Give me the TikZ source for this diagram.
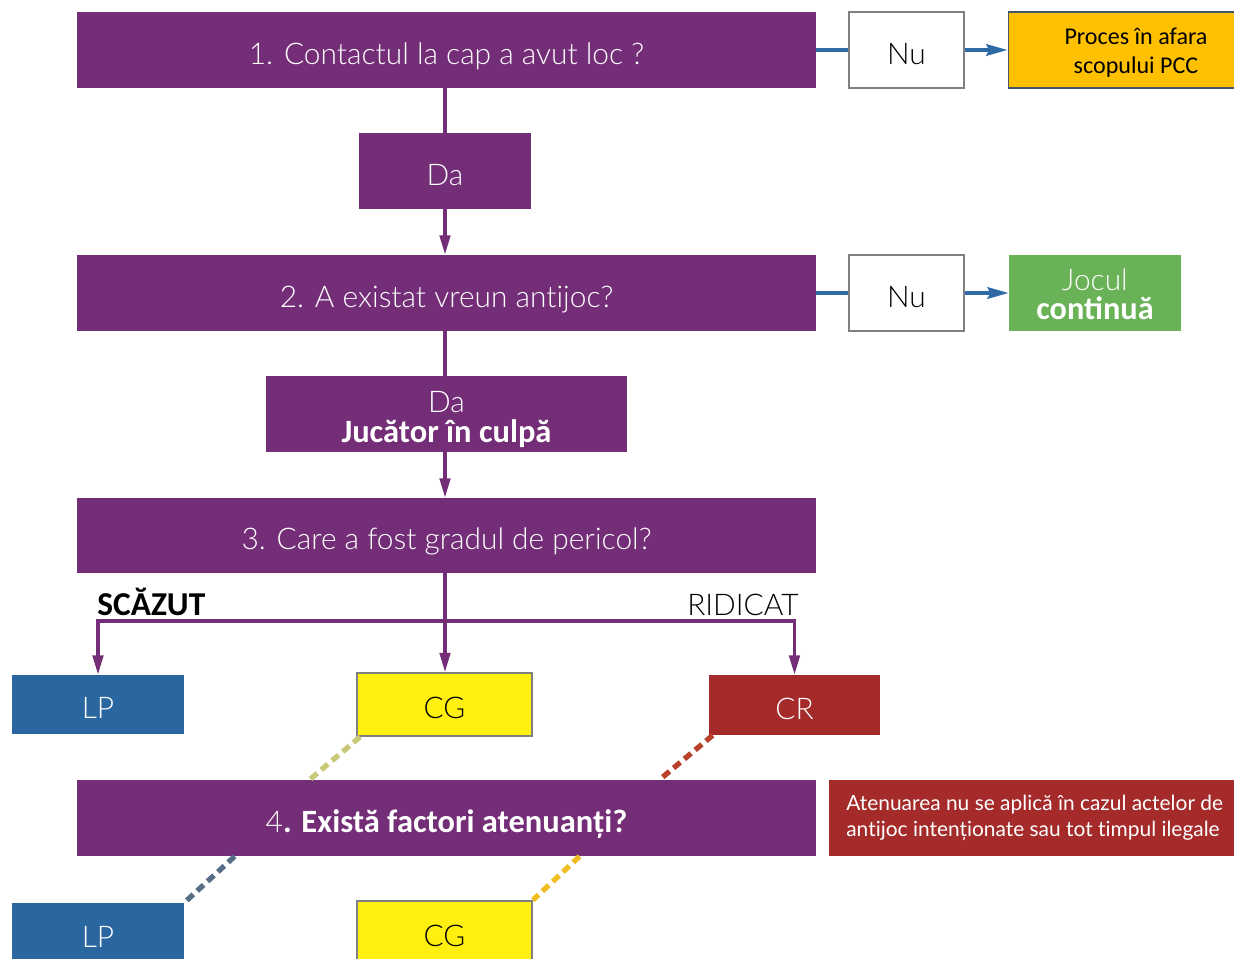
\documentclass[tikz,border=0pt]{standalone}
\usepackage{fontspec}
\setmainfont{Lato}[Ligatures=NoCommon]
\newfontfamily\lightfont{Lato Light}[Ligatures=NoCommon]
\newfontfamily\calfont{Carlito}
\usetikzlibrary{arrows.meta}

\definecolor{qpurple}{RGB}{116,46,120}
\definecolor{linkblue}{RGB}{46,106,166}
\definecolor{boxgray}{RGB}{127,127,127}
\definecolor{pccorange}{RGB}{255,192,0}
\definecolor{pccedge}{RGB}{68,84,106}
\definecolor{jocgreen}{RGB}{106,178,87}
\definecolor{lpblue}{RGB}{42,103,161}
\definecolor{cgyellow}{RGB}{255,240,15}
\definecolor{crred}{RGB}{165,42,42}
\definecolor{cgdash}{RGB}{200,200,120}
\definecolor{crdash}{RGB}{185,64,42}
\definecolor{lpdash}{RGB}{88,110,135}
\definecolor{cgdashb}{RGB}{240,190,35}

\tikzset{
  oneline/.style={text height=16pt, text depth=0pt},
  question/.style={rectangle, fill=qpurple, text=white, inner sep=0pt, oneline,
    minimum width=14.78cm, minimum height=1.52cm, align=center,
    font=\lightfont\fontsize{17}{17.6}\selectfont},
  answer/.style={rectangle, fill=qpurple, text=white, inner sep=0pt,
    minimum height=1.52cm, align=center,
    font=\lightfont\fontsize{17}{17.6}\selectfont},
  nobox/.style={rectangle, draw=boxgray, line width=1.2pt, fill=white, inner sep=0pt, oneline,
    minimum width=2.3cm, minimum height=1.52cm, font=\lightfont\fontsize{17}{20}\selectfont},
  pccbox/.style={rectangle, draw=pccedge, line width=0.6pt, fill=pccorange, inner sep=0pt,
    minimum width=5.12cm, minimum height=1.52cm, align=center, text height=27.2pt, text depth=0pt,
    font=\calfont\fontsize{13.7}{17}\selectfont},
  jocbox/.style={rectangle, fill=jocgreen, text=white, inner sep=0pt, align=center,
    minimum width=3.44cm, minimum height=1.52cm, text height=30.6pt, text depth=0pt,
    font=\lightfont\fontsize{17}{16.7}\selectfont},
  lpbox/.style={rectangle, fill=lpblue, text=white, inner sep=0pt, oneline,
    minimum width=3.44cm, minimum height=1.18cm, font=\lightfont\fontsize{17}{20}\selectfont},
  cgbox/.style={rectangle, fill=cgyellow, draw=boxgray, line width=1pt, inner sep=0pt, oneline,
    minimum width=3.5cm, minimum height=1.26cm, font=\lightfont\fontsize{17}{20}\selectfont},
  crbox/.style={lpbox, fill=crred, minimum width=3.42cm, minimum height=1.2cm},
  notebox/.style={rectangle, fill=crred, text=white, inner xsep=0.34cm, inner ysep=0pt,
    minimum height=1.52cm, align=left, font=\fontsize{11.9}{14.7}\selectfont},
  vlink/.style={draw=qpurple, line width=1.8pt},
  hlink/.style={draw=linkblue, line width=2pt},
  vtip/.style={-{Triangle[length=11pt,width=6pt]}},
  htip/.style={-{Stealth[length=12pt,width=6.5pt,inset=1.5pt]}},
  dashlink/.style={line width=3pt, dash pattern=on 5pt off 3pt}
}

\begin{document}
\begin{tikzpicture}[x=0.02cm,y=-0.02cm]
\path[use as bounding box, clip] (0,0) rectangle (1234,959);

% questions and answers
\node[question] (q1) at (446.5,50) {1. Contactul la cap a avut loc ?};
\node[nobox] (nu1) at (906.5,50) {Nu};
\node[pccbox] (pcc) at (1136,50) {Proces în afara\\scopului PCC};
\node[answer, oneline, minimum width=3.44cm] (da1) at (445,171) {Da};
\node[question] (q2) at (446.5,293) {2. A existat vreun antijoc?};
\node[nobox] (nu2) at (906.5,293) {Nu};
\node[jocbox] (joc) at (1095,293) {Jocul\\{\calfont\bfseries\fontsize{18.4}{16.7}\selectfont continuă}};
\node[answer, minimum width=7.22cm, text height=33pt, text depth=0pt] (da2) at (446.5,414) {Da\\{\calfont\bfseries\fontsize{18.5}{17.6}\selectfont Jucător în culpă}};
\node[question, minimum height=1.5cm] (q3) at (446.5,535.5) {3. Care a fost gradul de pericol?};
\node[lpbox] (lp1) at (98,704.5) {LP};
\node[cgbox] (cg1) at (444.5,704.5) {CG};
\node[crbox] (cr1) at (794.5,705) {CR};
\node[question] (q4) at (446.5,818) {4{\calfont\bfseries\fontsize{18.5}{17.6}\selectfont . Există factori atenuanți?}};
\node[notebox, anchor=west] (note) at (829,818) {Atenuarea nu se aplică în cazul actelor de\\antijoc intenționate sau tot timpul ilegale};
\node[lpbox, minimum height=1.2cm] (lp2) at (98,933) {LP};
\node[cgbox, minimum height=1.24cm] (cg2) at (444.5,932) {CG};

% labels of the branches
\node[anchor=south west, inner sep=0pt, font=\calfont\bfseries\fontsize{19}{20}\selectfont] (low) at (97,616) {SCĂZUT};
\node[anchor=south east, inner sep=0pt, font=\lightfont\fontsize{17}{20}\selectfont] (high) at (799,616) {RIDICAT};

% links
\draw[hlink] (q1.east) -- (nu1.west);
\draw[hlink, htip] (nu1.east) -- (pcc.west);
\draw[hlink] (q2.east) -- (nu2.west);
\draw[hlink, htip] (nu2.east) -- (joc.west);
\draw[vlink] (da1.north |- q1.south) -- (da1.north);
\draw[vlink, vtip] (da1.south) -- (da1.south |- q2.north);
\draw[vlink] (da1.north |- q2.south) -- (da1.north |- da2.north);
\draw[vlink, vtip] (da1.south |- da2.south) -- (da1.south |- q3.north);
\coordinate (split) at (445,621);
\draw[vlink, vtip] (split |- q3.south) -- (split |- cg1.north);
\draw[vlink, vtip] (split) -| (lp1.north);
\draw[vlink, vtip] (split) -| (cr1.north);

% dashed links
\draw[dashlink, draw=cgdash] ([xshift=0.08cm]cg1.south west) -- ([xshift=4.66cm]q4.north west);
\draw[dashlink, draw=crdash] ([xshift=0.08cm]cr1.south west) -- ([xshift=11.66cm]q4.north west);
\draw[dashlink, draw=lpdash] ([xshift=3.16cm]q4.south west) -- (lp2.north east);
\draw[dashlink, draw=cgdashb] ([xshift=10.06cm]q4.south west) -- (cg2.north east);
\end{tikzpicture}
\end{document}
